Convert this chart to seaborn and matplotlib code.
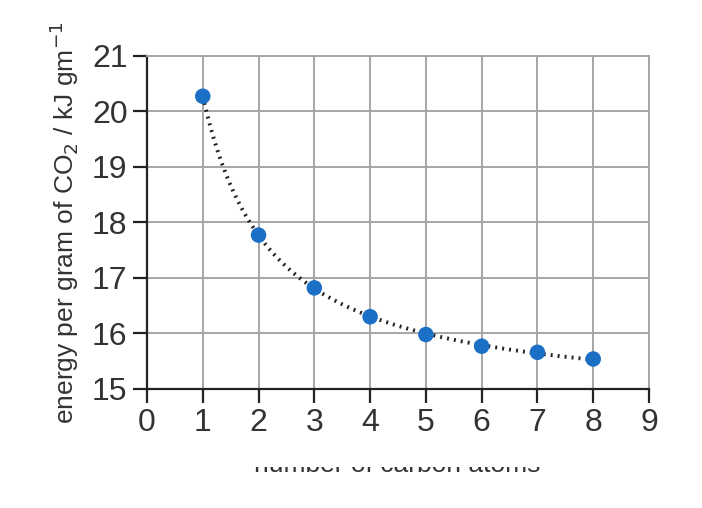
import numpy as np
import pandas as pd
import matplotlib.pyplot as plt
import matplotlib.patches as mpatches
import seaborn as sns

# data
carbon_atoms = [1, 2, 3, 4, 5, 6, 7, 8]
energy_per_gram = [20.27, 17.77, 16.82, 16.30, 15.98, 15.77, 15.66, 15.54]
x_ticks = [0, 1, 2, 3, 4, 5, 6, 7, 8, 9]
y_ticks = [15, 16, 17, 18, 19, 20, 21]

df = pd.DataFrame({'n': carbon_atoms, 'energy': energy_per_gram})

sns.set_style('white')
plt.rcParams['font.family'] = ['Liberation Sans', 'DejaVu Sans']

fig = plt.figure(figsize=(7.02, 5.08), dpi=100)
ax = fig.add_axes([0.2094, 0.2343, 0.7151, 0.6561])

# smooth trend line: fit energy = a + b/n + c/n^2
inv = 1.0 / np.array(carbon_atoms, dtype=float)
coef = np.polyfit(inv, energy_per_gram, 2)
n_fit = np.linspace(min(carbon_atoms), max(carbon_atoms), 200)
trend = pd.DataFrame({'n': n_fit, 'energy': np.polyval(coef, 1.0 / n_fit)})
sns.lineplot(data=trend, x='n', y='energy', ax=ax, color='#222222',
             linewidth=2.8, linestyle=(0, (0.5, 1.3)), zorder=3)

sns.scatterplot(data=df, x='n', y='energy', ax=ax, color='#1b6fc5',
                s=125, edgecolor='none', zorder=4)

ax.set_xlim(0, 9)
ax.set_ylim(15, 21)
ax.set_xticks(x_ticks)
ax.set_yticks(y_ticks)
ax.grid(True, color='#a6a6a6', linewidth=1.4)
ax.set_axisbelow(True)

for side in ['top', 'right']:
    ax.spines[side].set_color('#a6a6a6')
    ax.spines[side].set_linewidth(1.4)
for side in ['left', 'bottom']:
    ax.spines[side].set_color('#222222')
    ax.spines[side].set_linewidth(1.6)

ax.tick_params(axis='both', direction='out', length=10, width=1.6,
               color='#222222', labelsize=23, labelcolor='#333333', pad=4)
ax.tick_params(axis='both', left=True, bottom=True)

ax.set_xlabel('')
ax.set_ylabel('energy per gram of CO$_2$ / kJ gm$^{-1}$', fontsize=19,
              color='#333333', labelpad=8)

# x label is cut off in the original: draw it and mask its top part
fig.text(0.566, 0.0709, 'number of carbon atoms', fontsize=19,
         color='#333333', ha='center', va='baseline')
fig.add_artist(mpatches.Rectangle((0.3, 0.0807), 0.55, 0.06, transform=fig.transFigure,
                                  facecolor='white', edgecolor='none', zorder=10))

fig.savefig('out.png', dpi=100)
